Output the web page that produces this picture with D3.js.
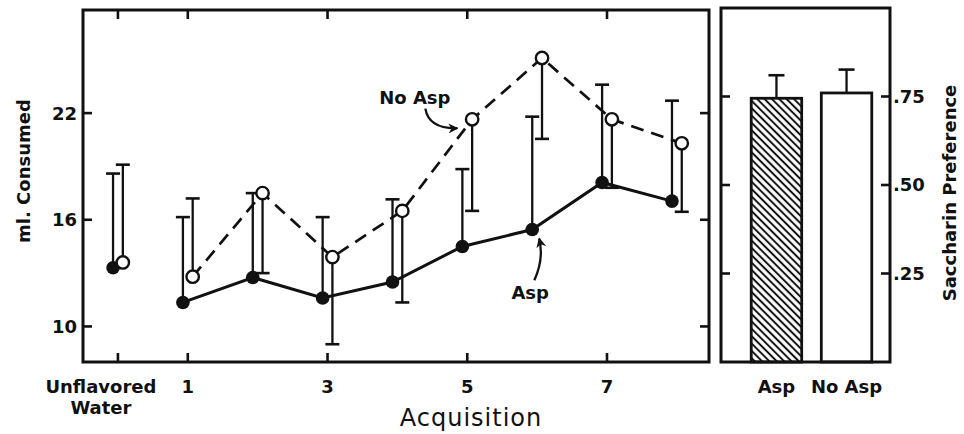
<!DOCTYPE html>
<html>
<head>
<meta charset="utf-8">
<script src="https://cdnjs.cloudflare.com/ajax/libs/d3/7.8.5/d3.min.js"></script>
<style>
body { margin: 0; background: #fff; }
text { font-family: "DejaVu Sans", sans-serif; font-weight: bold; fill: #111; }
</style>
</head>
<body>
<svg width="964" height="434"></svg>
<script>
// acquisition data (0 = unflavored water)
var sessions = [0, 1, 2, 3, 4, 5, 6, 7, 8];
var aspMean = [13.3, 11.35, 12.75, 11.6, 12.5, 14.5, 15.45, 18.1, 17.05];
var aspBarEnd = [18.6, 16.15, 17.5, 16.15, 17.15, 18.85, 21.8, 23.6, 22.7];
var noAspMean = [13.6, 12.8, 17.5, 13.9, 16.5, 21.65, 25.1, 21.65, 20.3];
var noAspBarEnd = [19.1, 17.2, 13.0, 9.0, 11.35, 16.5, 20.55, 17.8, 16.45];
var xTicks = [0, 1, 3, 5, 7];
var xTickLabels = [["Unflavored", "Water"], ["1"], ["3"], ["5"], ["7"]];
var yTicks = [10, 16, 22];

// saccharin preference
var prefGroups = ["Asp", "No Asp"];
var prefValues = [0.745, 0.76];
var prefBarEnd = [0.81, 0.826];
var prefTicks = [0.25, 0.5, 0.75];
var prefTickLabels = [".25", ".50", ".75"];

// annotations in data units
var notes = [
  {text: "No Asp", x: 4.25, y: 22.9, from: [4.4, 22.25], ctrl: [4.45, 21.1], to: [4.86, 21.15]},
  {text: "Asp", x: 5.9, y: 11.9, from: [5.96, 12.6], ctrl: [6.1, 13.8], to: [6.03, 14.95]}
];

var svg = d3.select("svg");
var OFF = 0.07;

var x = d3.scaleLinear().domain([-0.5, 8.46]).range([83, 709]);
var y = d3.scaleLinear().domain([8, 27.8]).range([362, 10]);

svg.append("defs").append("marker")
  .attr("id", "arrow")
  .attr("viewBox", "0 0 10 10")
  .attr("refX", 9).attr("refY", 5)
  .attr("markerWidth", 10).attr("markerHeight", 10)
  .attr("markerUnits", "userSpaceOnUse")
  .attr("orient", "auto")
  .append("path").attr("d", "M0,0 L10,5 L0,10 L3,5 Z").style("fill", "#111");

svg.select("defs").append("pattern")
  .attr("id", "hatch")
  .attr("patternUnits", "userSpaceOnUse")
  .attr("width", 5.2).attr("height", 5.2)
  .attr("patternTransform", "rotate(45)")
  .append("line")
  .attr("x1", 0).attr("x2", 5.2).attr("y1", 2.6).attr("y2", 2.6)
  .style("stroke", "#111").style("stroke-width", 2);

// ---- left panel ----
var left = svg.append("g");

function errBar(g, xp, y0, y1, cap) {
  g.append("line").attr("x1", xp).attr("x2", xp).attr("y1", y0).attr("y2", y1)
    .style("stroke", "#111").style("stroke-width", 2.3);
  g.append("line").attr("x1", xp - cap / 2).attr("x2", xp + cap / 2).attr("y1", y1).attr("y2", y1)
    .style("stroke", "#111").style("stroke-width", 2.6);
}

sessions.forEach(function(s, i) {
  errBar(left, x(s - OFF), y(aspMean[i]), y(aspBarEnd[i]), 14);
  errBar(left, x(s + OFF), y(noAspMean[i]), y(noAspBarEnd[i]), 14);
});

var acq = sessions.slice(1);
var aspLine = d3.line().x(function(s) { return x(s - OFF); }).y(function(s) { return y(aspMean[s]); });
var noAspLine = d3.line().x(function(s) { return x(s + OFF); }).y(function(s) { return y(noAspMean[s]); });

left.append("path").attr("d", aspLine(acq))
  .style("fill", "none").style("stroke", "#111").style("stroke-width", 3);
left.append("path").attr("d", noAspLine(acq))
  .style("fill", "none").style("stroke", "#111").style("stroke-width", 2.7)
  .style("stroke-dasharray", "13,8");

left.selectAll(".asp").data(sessions).enter().append("circle")
  .attr("cx", function(s) { return x(s - OFF); })
  .attr("cy", function(s, i) { return y(aspMean[i]); })
  .attr("r", 6.8).style("fill", "#111");
left.selectAll(".noasp").data(sessions).enter().append("circle")
  .attr("cx", function(s) { return x(s + OFF); })
  .attr("cy", function(s, i) { return y(noAspMean[i]); })
  .attr("r", 6.2).style("fill", "#fff").style("stroke", "#111").style("stroke-width", 2.4);

// frame
left.append("rect").attr("x", x.range()[0]).attr("y", y.range()[1])
  .attr("width", x.range()[1] - x.range()[0]).attr("height", y.range()[0] - y.range()[1])
  .style("fill", "none").style("stroke", "#111").style("stroke-width", 3);

var T = 9;
xTicks.forEach(function(t) {
  left.append("line").attr("x1", x(t)).attr("x2", x(t)).attr("y1", y.range()[1]).attr("y2", y.range()[1] + T)
    .style("stroke", "#111").style("stroke-width", 2.6);
  left.append("line").attr("x1", x(t)).attr("x2", x(t)).attr("y1", y.range()[0]).attr("y2", y.range()[0] - T)
    .style("stroke", "#111").style("stroke-width", 2.6);
});
yTicks.forEach(function(t) {
  left.append("line").attr("x1", x.range()[0]).attr("x2", x.range()[0] + T).attr("y1", y(t)).attr("y2", y(t))
    .style("stroke", "#111").style("stroke-width", 2.6);
  left.append("line").attr("x1", x.range()[1]).attr("x2", x.range()[1] - T).attr("y1", y(t)).attr("y2", y(t))
    .style("stroke", "#111").style("stroke-width", 2.6);
  left.append("text").attr("x", x.range()[0] - 6).attr("y", y(t)).attr("dy", "0.36em")
    .attr("text-anchor", "end").style("font-size", "18px").text(t);
});

xTicks.forEach(function(t, i) {
  var lx = t === 0 ? x(t) - 17 : x(t);
  var txt = left.append("text").attr("text-anchor", "middle").style("font-size", "18px")
    .attr("x", lx).attr("y", 393);
  xTickLabels[i].forEach(function(l, k) {
    txt.append("tspan").attr("x", lx).attr("dy", k === 0 ? 0 : "1.15em").text(l);
  });
});

left.append("text").attr("x", 471).attr("y", 426).attr("text-anchor", "middle")
  .style("font-size", "24px").style("font-weight", "normal").style("letter-spacing", "1px").text("Acquisition");
left.append("text").attr("transform", "translate(30,171) rotate(-90)").attr("text-anchor", "middle")
  .style("font-size", "18px").text("ml. Consumed");

notes.forEach(function(n) {
  left.append("text").attr("x", x(n.x)).attr("y", y(n.y)).attr("dy", "0.36em")
    .attr("text-anchor", "middle").style("font-size", "18px").text(n.text);
  var p = d3.path();
  p.moveTo(x(n.from[0]), y(n.from[1]));
  p.quadraticCurveTo(x(n.ctrl[0]), y(n.ctrl[1]), x(n.to[0]), y(n.to[1]));
  left.append("path").attr("d", p.toString()).style("fill", "none")
    .style("stroke", "#111").style("stroke-width", 2.3).attr("marker-end", "url(#arrow)");
});

// ---- right panel ----
var right = svg.append("g");
var bx = d3.scaleBand().domain(prefGroups).range([733, 890]).paddingInner(0.28).paddingOuter(0.26);
var by = d3.scaleLinear().domain([0, 1]).range([362, 8]);

prefGroups.forEach(function(g, i) {
  var cx = bx(g) + bx.bandwidth() / 2;
  right.append("line").attr("x1", cx).attr("x2", cx).attr("y1", by(prefValues[i])).attr("y2", by(prefBarEnd[i]))
    .style("stroke", "#111").style("stroke-width", 2.3);
  right.append("line").attr("x1", cx - 8).attr("x2", cx + 8).attr("y1", by(prefBarEnd[i])).attr("y2", by(prefBarEnd[i]))
    .style("stroke", "#111").style("stroke-width", 2.6);
  right.append("rect").attr("x", bx(g)).attr("y", by(prefValues[i]))
    .attr("width", bx.bandwidth()).attr("height", by(0) - by(prefValues[i]))
    .style("fill", i === 0 ? "url(#hatch)" : "#fff")
    .style("stroke", "#111").style("stroke-width", 2.8);
  right.append("text").attr("x", cx).attr("y", 393).attr("text-anchor", "middle")
    .style("font-size", "18px").text(g);
});

right.append("rect").attr("x", 721).attr("y", by.range()[1])
  .attr("width", 890 - 721).attr("height", by.range()[0] - by.range()[1])
  .style("fill", "none").style("stroke", "#111").style("stroke-width", 3);

prefTicks.forEach(function(t, i) {
  right.append("line").attr("x1", 721).attr("x2", 721 + T).attr("y1", by(t)).attr("y2", by(t))
    .style("stroke", "#111").style("stroke-width", 2.6);
  right.append("line").attr("x1", 890).attr("x2", 890 - T).attr("y1", by(t)).attr("y2", by(t))
    .style("stroke", "#111").style("stroke-width", 2.6);
  right.append("text").attr("x", 893).attr("y", by(t)).attr("dy", "0.36em")
    .style("font-size", "18px").text(prefTickLabels[i]);
});

right.append("text").attr("transform", "translate(956,193) rotate(-90)").attr("text-anchor", "middle")
  .style("font-size", "18px").text("Saccharin  Preference");
</script>
</body>
</html>
